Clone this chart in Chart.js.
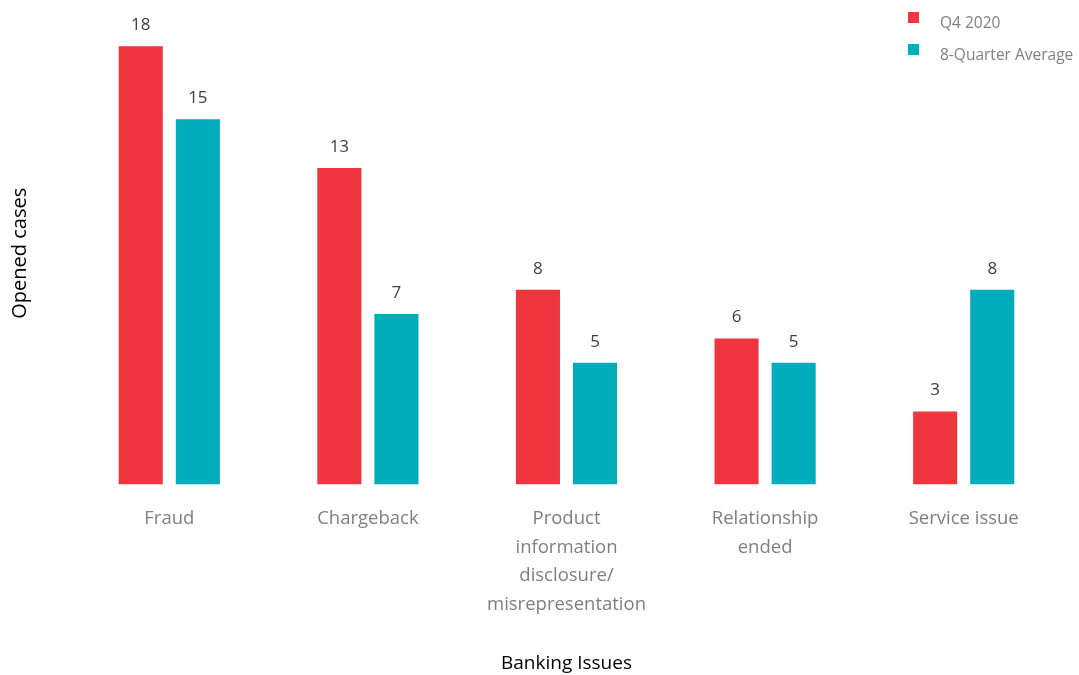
<!DOCTYPE html>
<html>
<head>
<meta charset="utf-8">
<script src="https://cdn.jsdelivr.net/npm/chart.js@4.4.1/dist/chart.umd.min.js"></script>
<style>
    html, body { margin: 0; padding: 0; background: #fff; }
    #wrap { width: 1079px; height: 675px; position: relative; }
</style>
</head>
<body>
<div id="wrap"><canvas id="issuesChart"></canvas></div>
<script>
const categories = [
    ['Fraud'],
    ['Chargeback'],
    ['Product', 'information', 'disclosure/', 'misrepresentation'],
    ['Relationship', 'ended'],
    ['Service issue']
];
const q4Values = [18, 13, 8, 6, 3];
const avgValues = [15, 7, 5, 5, 8];
const seriesNames = ['Q4 2020', '8-Quarter Average'];
const seriesColors = ['#EF363F', '#00AEBB'];

const fontFamily = "'Open Sans', 'Noto Sans', sans-serif";

// value labels above each bar
const barValues = {
    id: 'barValues',
    afterDatasetsDraw(chart) {
        const ctx = chart.ctx;
        ctx.save();
        ctx.fillStyle = '#404040';
        ctx.font = '17px ' + fontFamily;
        ctx.textAlign = 'center';
        ctx.textBaseline = 'middle';
        chart.data.datasets.forEach((ds, i) => {
            chart.getDatasetMeta(i).data.forEach((bar, j) => {
                ctx.fillText(ds.data[j], bar.x, bar.y - 21);
            });
        });
        ctx.restore();
    }
};

// legend in the top right corner
const cornerLegend = {
    id: 'cornerLegend',
    afterDraw(chart) {
        const ctx = chart.ctx;
        ctx.save();
        ctx.font = '15.5px ' + fontFamily;
        ctx.textBaseline = 'middle';
        chart.data.datasets.forEach((ds, i) => {
            const y = 17 + i * 32;
            ctx.fillStyle = ds.backgroundColor;
            ctx.fillRect(908, y - 5, 11, 11);
            ctx.fillStyle = '#808080';
            ctx.fillText(ds.label, 940, y + 7);
        });
        ctx.restore();
    }
};

new Chart(document.getElementById('issuesChart'), {
    type: 'bar',
    data: {
        labels: categories,
        datasets: [
            { label: seriesNames[0], data: q4Values, backgroundColor: seriesColors[0] },
            { label: seriesNames[1], data: avgValues, backgroundColor: seriesColors[1] }
        ]
    },
    options: {
        responsive: true,
        maintainAspectRatio: false,
        animation: false,
        categoryPercentage: 0.575,
        barPercentage: 0.772,
        layout: {
            padding: { top: 22, left: 8, right: 16, bottom: 0 }
        },
        plugins: {
            legend: { display: false },
            tooltip: { enabled: false }
        },
        scales: {
            x: {
                grid: { display: false, drawTicks: false },
                border: { display: false },
                ticks: {
                    color: '#7f7f7f',
                    padding: 20,
                    maxRotation: 0,
                    autoSkip: false,
                    font: { family: fontFamily, size: 18.5, lineHeight: 1.55 }
                },
                title: {
                    display: true,
                    text: 'Banking Issues',
                    color: '#000',
                    padding: { top: 13, bottom: 0 },
                    font: { family: fontFamily, size: 19 }
                }
            },
            y: {
                min: 0,
                max: 19,
                grid: { display: false, drawTicks: false },
                border: { display: false },
                ticks: { display: false },
                title: {
                    display: true,
                    text: 'Opened cases',
                    color: '#000',
                    padding: { top: 0, bottom: 38 },
                    font: { family: fontFamily, size: 20 }
                }
            }
        }
    },
    plugins: [barValues, cornerLegend]
});
</script>
</body>
</html>
